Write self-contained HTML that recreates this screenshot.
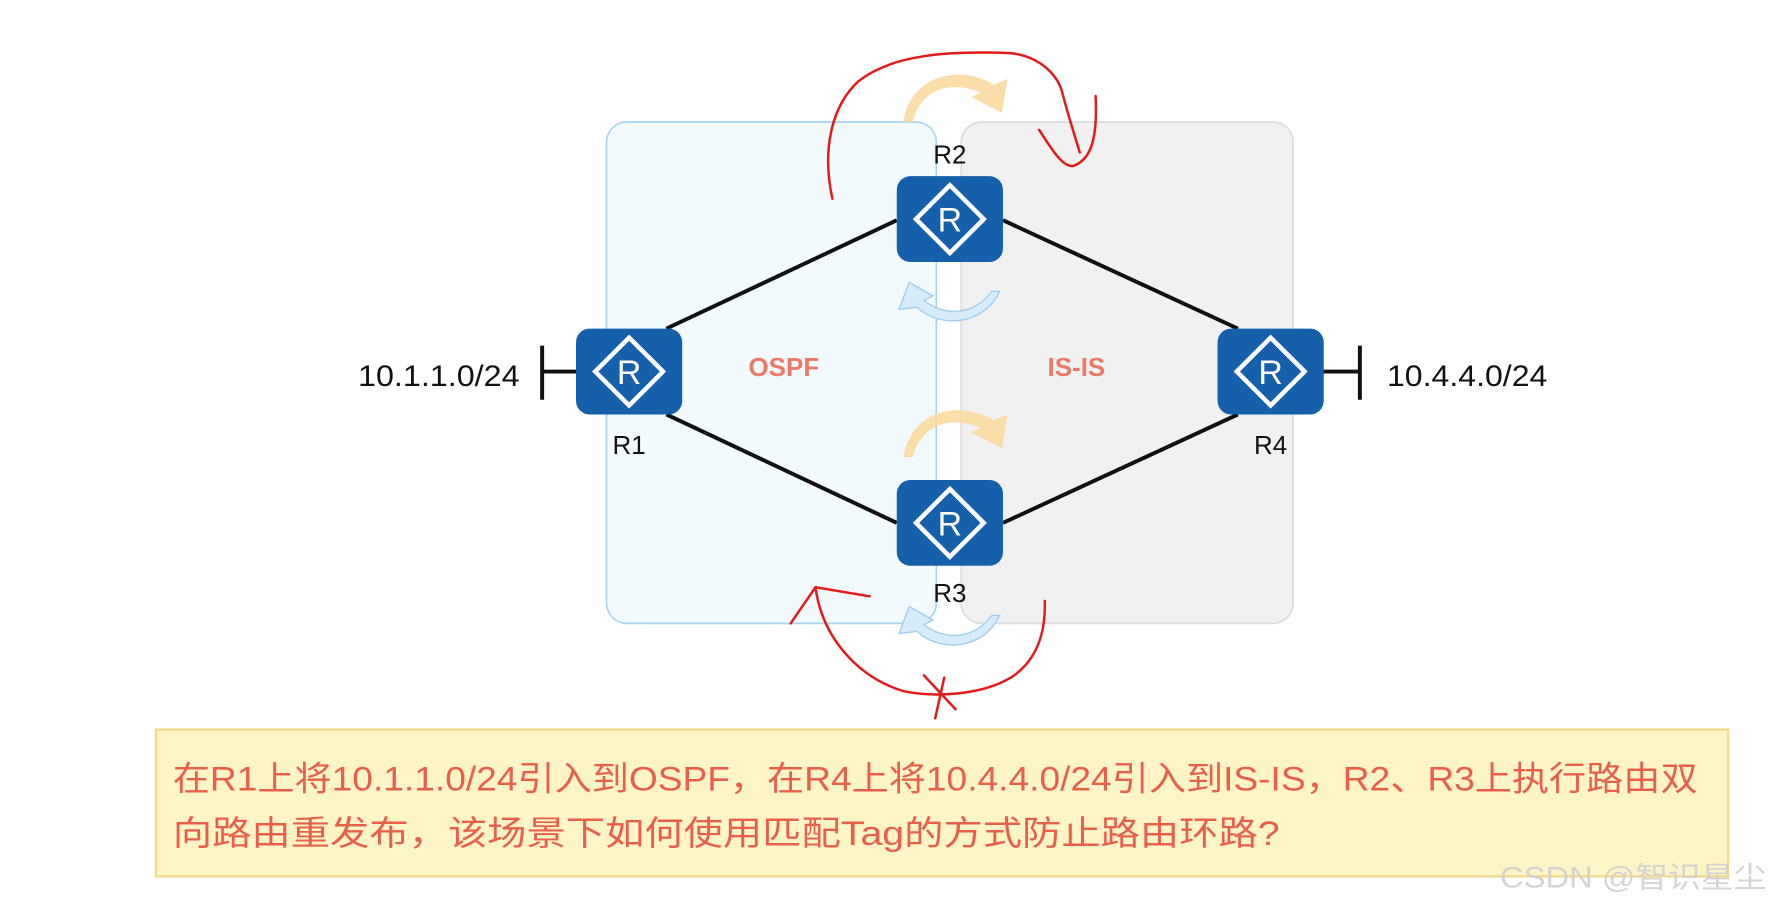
<!DOCTYPE html>
<html><head><meta charset="utf-8"><style>
html,body{margin:0;padding:0;background:#fff;}
svg{display:block;}
</style></head><body>
<svg width="1771" height="908" viewBox="0 0 1568 804" preserveAspectRatio="none" xmlns="http://www.w3.org/2000/svg">
<defs>
<g id="rt">
<rect x="-47" y="-38" width="94" height="76" rx="12" fill="#155fab"/>
<polygon points="0,-30 30,0 0,30 -30,0" fill="none" stroke="#fff" stroke-width="4"/>
<text x="0" y="11" text-anchor="middle" font-family="Liberation Sans, sans-serif" font-size="30" fill="#fff">R</text>
</g>
</defs>
<rect x="0" y="0" width="1568" height="804" fill="#fff"/>
<rect x="537" y="108" width="292" height="444" rx="18" fill="#f2fafe" stroke="#a8d6ee" stroke-width="1.5"/>
<rect x="851" y="108" width="294" height="444" rx="18" fill="#f1f1f1" stroke="#dcdcdc" stroke-width="1.5"/>
<g stroke="#111" stroke-width="3.5">
<line x1="794" y1="195" x2="590" y2="291"/>
<line x1="888" y1="195" x2="1096" y2="291"/>
<line x1="590" y1="367" x2="794" y2="463"/>
<line x1="888" y1="463" x2="1096" y2="367"/>
<line x1="480" y1="329" x2="512" y2="329"/>
<line x1="480" y1="306" x2="480" y2="354"/>
<line x1="1170" y1="329" x2="1204" y2="329"/>
<line x1="1204" y1="306" x2="1204" y2="354"/>
</g>
<g fill="#fbd9a0" opacity="0.9">
<path d="M800,108 C805,70 845,55 880,75 L892,70 L887,100 L860,86 L868,82 C840,70 815,80 808,108 Z"/>
<path d="M800,405 C805,367 845,352 880,372 L892,367 L887,397 L860,383 L868,379 C840,367 815,377 808,405 Z"/>
</g>
<g fill="#d6ecfa" stroke="#9ccdee" stroke-width="1.2">
<path d="M885,258 C870,290 830,290 812,272 L796,274 L805,250 L826,262 L818,266 C835,280 862,280 878,258 Z"/>
<path d="M885,545 C870,577 830,577 812,559 L796,561 L805,537 L826,549 L818,553 C835,567 862,567 878,545 Z"/>
</g>
<use href="#rt" x="841" y="194"/>
<use href="#rt" x="557" y="329"/>
<use href="#rt" x="841" y="463"/>
<use href="#rt" x="1125" y="329"/>
<g font-family="Liberation Sans, sans-serif" font-size="23" fill="#111" text-anchor="middle">
<text x="841" y="145">R2</text>
<text x="557" y="402">R1</text>
<text x="841" y="533">R3</text>
<text x="1125" y="402">R4</text>
</g>
<g font-family="Liberation Sans, sans-serif" font-size="26" fill="#111">
<text x="317" y="342" textLength="143" lengthAdjust="spacingAndGlyphs">10.1.1.0/24</text>
<text x="1228" y="342" textLength="142" lengthAdjust="spacingAndGlyphs">10.4.4.0/24</text>
</g>
<g font-family="Liberation Sans, sans-serif" font-size="23" font-weight="bold" fill="#ea7a66" text-anchor="middle">
<text x="694" y="333">OSPF</text>
<text x="953" y="333">IS-IS</text>
</g>
<g fill="none" stroke="#e21a1a" stroke-width="2.2" stroke-linecap="round">
<path d="M737,176 C728,135 735,95 760,72 C790,48 840,45 895,47 C920,50 935,65 940,80 C945,100 950,115 956,135"/>
<path d="M920,115 C930,130 940,148 950,147 C965,142 972,125 970,85"/>
<path d="M700,552 L722,520 L770,528"/>
<path d="M722,520 C728,565 760,600 800,612 C830,618 870,615 895,600 C918,585 926,560 925,532"/>
<path d="M818,598 L846,628"/>
<path d="M836,600 L828,636"/>
</g>
<rect x="138" y="646" width="1392" height="130" fill="#fdf5c5" stroke="#f3d98a" stroke-width="2"/>
<g font-family="Liberation Sans, 'Noto Sans CJK SC', sans-serif" font-size="30" fill="#e8604c">
<text x="153" y="700" textLength="1350" lengthAdjust="spacingAndGlyphs">在R1上将10.1.1.0/24引入到OSPF，在R4上将10.4.4.0/24引入到IS-IS，R2、R3上执行路由双</text>
<text x="153" y="748" textLength="980" lengthAdjust="spacingAndGlyphs">向路由重发布，该场景下如何使用匹配Tag的方式防止路由环路?</text>
</g>
<text x="1328" y="786" font-family="Liberation Sans, 'Noto Sans CJK SC', sans-serif" font-size="26" fill="#cfcfcf" fill-opacity="0.9" textLength="236" lengthAdjust="spacingAndGlyphs">CSDN @智识星尘</text>
</svg>
</body></html>
